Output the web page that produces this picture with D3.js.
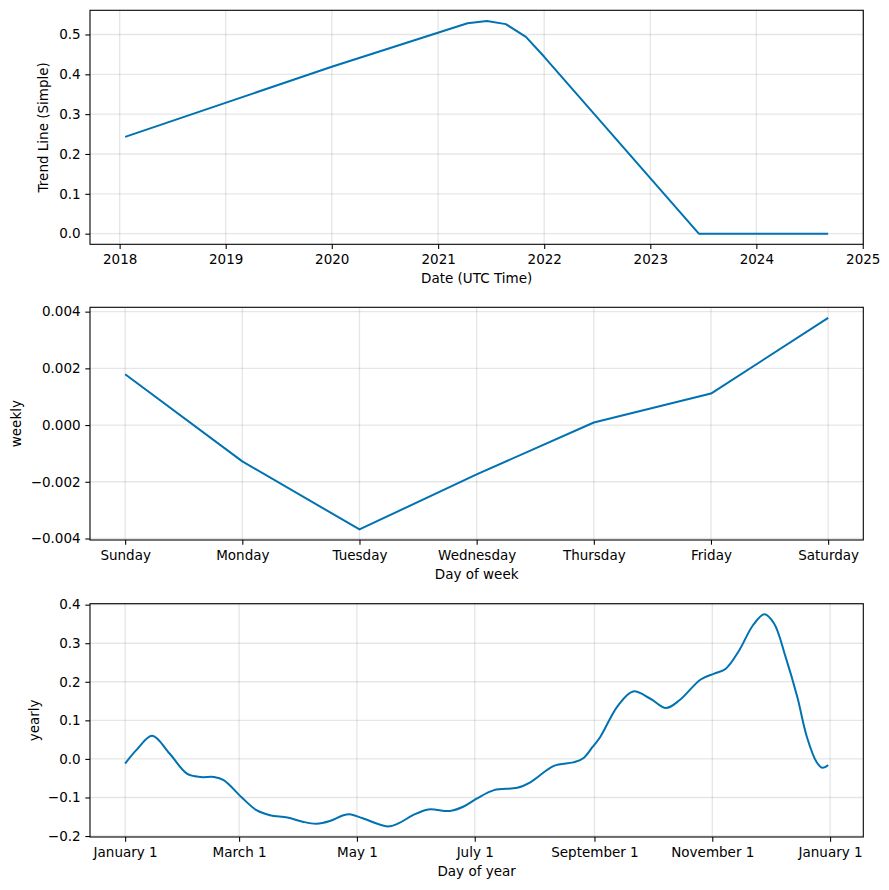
<!DOCTYPE html>
<html><head><meta charset="utf-8">
<script src="https://cdn.jsdelivr.net/npm/d3@7"></script>
<style>
html,body{margin:0;padding:0;background:#fff;}
svg text{font-family:"DejaVu Sans",sans-serif;fill:#000;}
</style></head><body>
<svg id="chart" width="889" height="890"></svg>
<script>
// ---------- data ----------
const trendDates = ["2018-01-20","2020-01-01","2021-04-12","2021-06-18","2021-08-22","2021-10-30","2022-01-01","2023-06-17","2024-09-04"];
const trendValues = [0.243, 0.419, 0.528, 0.534, 0.526, 0.494, 0.444, 0.0, 0.0];
const trendTickYears = [2018, 2019, 2020, 2021, 2022, 2023, 2024, 2025];
const trendYTicks = [0.0, 0.1, 0.2, 0.3, 0.4, 0.5];

const weekdays = ["Sunday","Monday","Tuesday","Wednesday","Thursday","Friday","Saturday"];
const weeklyValues = [0.00179, -0.00128, -0.00368, -0.00174, 0.00009, 0.00111, 0.00378];
const weeklyYTicks = [-0.004, -0.002, 0.000, 0.002, 0.004];

const yearlyDays = [0, 6, 14, 23, 32, 39, 46, 51, 60, 68, 75, 84, 92, 99, 106, 113, 117, 123, 136, 142, 149, 157, 168, 175, 182, 191, 203, 210, 222, 232, 237, 242, 246, 255, 263, 272, 280, 287, 298, 305, 311, 318, 325, 331, 336, 342, 348, 353, 358, 361, 364];
const yearlyValues = [-0.012, 0.024, 0.060, 0.014, -0.038, -0.047, -0.047, -0.055, -0.098, -0.133, -0.146, -0.152, -0.163, -0.168, -0.161, -0.146, -0.144, -0.154, -0.175, -0.166, -0.146, -0.131, -0.135, -0.124, -0.103, -0.081, -0.075, -0.060, -0.018, -0.009, 0.001, 0.031, 0.057, 0.137, 0.175, 0.156, 0.132, 0.152, 0.206, 0.221, 0.234, 0.282, 0.346, 0.375, 0.351, 0.264, 0.161, 0.057, -0.008, -0.023, -0.016];
const yearlyTickDates = ["2017-01-01","2017-03-01","2017-05-01","2017-07-01","2017-09-01","2017-11-01","2018-01-01"];
const yearlyTickLabels = ["January 1","March 1","May 1","July 1","September 1","November 1","January 1"];
const yearlyYTicks = [-0.2, -0.1, 0.0, 0.1, 0.2, 0.3, 0.4];

// ---------- layout ----------
const L = 90, R = 863.3;
const FS = 13.5;
const LINE = "#0072B2";
const svg = d3.select("#chart");
const parseD = d3.utcParse("%Y-%m-%d");
const DAY = 86400000;
const yearStart = parseD("2017-01-01");

function padExt(ext, f = 0.05) {
  const a = +ext[0], b = +ext[1], p = (b - a) * f;
  return [a - p, b + p];
}

function panel(opt) {
  const g = svg.append("g");
  const x = opt.x, y = opt.y;
  const top = opt.top, bottom = opt.bottom;
  // grid
  const grid = g.append("g").attr("stroke", "#808080").attr("stroke-opacity", 0.2).attr("stroke-width", 1.35);
  opt.xTicks.forEach(t => {
    grid.append("line").attr("x1", x(t)).attr("x2", x(t)).attr("y1", top).attr("y2", bottom);
  });
  opt.yTicks.forEach(t => {
    grid.append("line").attr("x1", L).attr("x2", R).attr("y1", y(t)).attr("y2", y(t));
  });
  // line
  g.append("path")
    .datum(opt.data)
    .attr("fill", "none")
    .attr("stroke", LINE)
    .attr("stroke-width", 2)
    .attr("stroke-linejoin", "round")
    .attr("stroke-linecap", "butt")
    .attr("d", d3.line().x(d => x(d[0])).y(d => y(d[1])).curve(opt.curve || d3.curveLinear));
  // axes
  const xa = g.append("g").attr("transform", `translate(0,${bottom})`)
    .call(d3.axisBottom(x).tickValues(opt.xTicks).tickFormat(opt.xFmt).tickSize(4.7).tickPadding(5.7));
  const ya = g.append("g").attr("transform", `translate(${L},0)`)
    .call(d3.axisLeft(y).tickValues(opt.yTicks).tickFormat(opt.yFmt).tickSize(4.7).tickPadding(4.7));
  [xa, ya].forEach(a => {
    a.select(".domain").remove();
    a.selectAll(".tick line").attr("stroke", "#000").attr("stroke-width", 1.08);
    a.selectAll(".tick text").attr("font-size", FS).attr("font-family", "DejaVu Sans").attr("fill", "#000");
  });
  // spines
  g.append("rect").attr("x", L).attr("y", top).attr("width", R - L).attr("height", bottom - top)
    .attr("fill", "none").attr("stroke", "#000").attr("stroke-width", 1.08);
  // labels
  g.append("text").attr("x", (L + R) / 2).attr("y", bottom + 39).attr("text-anchor", "middle")
    .attr("font-size", FS).text(opt.xlabel);
  g.append("text").attr("transform", `translate(${opt.ylabelX},${(top + bottom) / 2}) rotate(-90)`)
    .attr("text-anchor", "middle").attr("font-size", FS).text(opt.ylabel);
}

// ---- panel 1: trend ----
const tDates = trendDates.map(parseD);
const trendData = tDates.map((d, i) => [d, trendValues[i]]);
const x1 = d3.scaleUtc().domain(padExt(d3.extent(tDates)).map(v => new Date(v))).range([L, R]);
const y1 = d3.scaleLinear().domain(padExt(d3.extent(trendValues))).range([244.3, 10.3]);
panel({
  x: x1, y: y1, top: 10.3, bottom: 244.3,
  xTicks: trendTickYears.map(yr => new Date(Date.UTC(yr, 0, 1))),
  xFmt: d3.utcFormat("%Y"),
  yTicks: trendYTicks, yFmt: d3.format(".1f"),
  data: trendData,
  xlabel: "Date (UTC Time)", ylabel: "Trend Line (Simple)", ylabelX: 48
});

// ---- panel 2: weekly ----
const weeklyIdx = weekdays.map((d, i) => i);
const weeklyData = weeklyIdx.map(i => [i, weeklyValues[i]]);
const x2 = d3.scaleLinear().domain(padExt([0, weekdays.length - 1])).range([L, R]);
const y2 = d3.scaleLinear().domain(padExt(d3.extent(weeklyValues))).range([540, 307.3]);
panel({
  x: x2, y: y2, top: 307.3, bottom: 540,
  xTicks: weeklyIdx, xFmt: i => weekdays[i],
  yTicks: weeklyYTicks, yFmt: d3.format(".3f"),
  data: weeklyData,
  xlabel: "Day of week", ylabel: "weekly", ylabelX: 21
});

// ---- panel 3: yearly ----
const yDates = yearlyDays.map(dd => new Date(+yearStart + dd * DAY));
const yearlyData = yDates.map((d, i) => [d, yearlyValues[i]]);
const x3 = d3.scaleUtc().domain(padExt(d3.extent(yDates)).map(v => new Date(v))).range([L, R]);
const y3 = d3.scaleLinear().domain(padExt(d3.extent(yearlyValues))).range([837, 603.7]);
const yTickD = yearlyTickDates.map(parseD);
panel({
  x: x3, y: y3, top: 603.7, bottom: 837,
  xTicks: yTickD, xFmt: (d, i) => yearlyTickLabels[i],
  yTicks: yearlyYTicks, yFmt: d3.format(".1f"),
  data: yearlyData, curve: d3.curveCatmullRom.alpha(0.5),
  xlabel: "Day of year", ylabel: "yearly", ylabelX: 38.5
});
</script>
</body></html>
